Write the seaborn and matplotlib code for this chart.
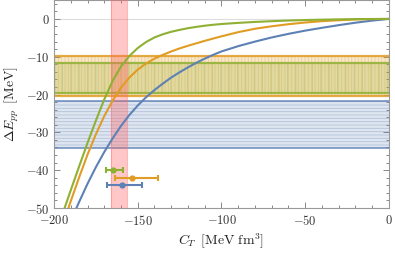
import numpy as np
import pandas as pd
import matplotlib
matplotlib.use("Agg")
import matplotlib.pyplot as plt
from matplotlib.ticker import MultipleLocator, FuncFormatter
import seaborn as sns

# curves: C_T [MeV fm^3] vs Delta E_pp [MeV]
c_blue = [0, -10, -20, -30, -40, -50, -60, -70, -80, -90, -100, -105, -110,
          -115, -120, -125, -130, -135, -140, -145, -150, -155, -160, -165,
          -170, -175, -180, -185, -187]
e_blue = [0, -0.45, -1.0, -1.65, -2.35, -3.1, -3.95, -4.9, -6.0, -7.2, -8.6,
          -9.5, -10.5, -11.6, -12.8, -14.1, -15.5, -17.1, -18.8, -20.7, -22.9,
          -25.4, -28.3, -31.6, -35.2, -39.2, -43.6, -48.4, -50.4]

c_orange = [0, -10, -20, -30, -40, -50, -60, -70, -80, -90, -100, -105, -110,
            -115, -120, -125, -130, -135, -140, -145, -150, -155, -160, -165,
            -170, -175, -180, -185, -190, -192]
e_orange = [0, -0.05, -0.15, -0.35, -0.6, -0.95, -1.4, -1.95, -2.6, -3.5, -4.6,
            -5.2, -5.8, -6.45, -7.1, -7.8, -8.6, -9.5, -10.5, -11.8, -13.4,
            -15.5, -18.2, -21.6, -25.7, -30.5, -35.9, -41.9, -48.2, -50.8]

c_green = [0, -10, -20, -30, -40, -50, -60, -70, -80, -90, -100, -105, -110,
           -115, -120, -125, -130, -135, -140, -145, -150, -155, -160, -165,
           -170, -175, -180, -185, -190, -195]
e_green = [0, -0.02, -0.06, -0.12, -0.2, -0.3, -0.43, -0.6, -0.8, -1.05, -1.35,
           -1.55, -1.8, -2.1, -2.45, -2.9, -3.4, -4.05, -4.9, -6.1, -7.7, -9.8,
           -12.6, -16.4, -21.3, -26.9, -32.8, -39.0, -45.3, -51.7]

# horizontal bands (lower, upper) in MeV
band_orange = (-20.5, -9.7)
band_green = (-19.5, -11.6)
band_blue = (-34.1, -21.7)

# vertical band in C_T
band_red = (-165.8, -156.6)

# error bars: centre, lower end, upper end, height
eb_names = ["green", "orange", "blue"]
eb_center = [-164.6, -153.3, -159.3]
eb_low = [-169.1, -163.3, -168.6]
eb_high = [-158.7, -137.8, -147.3]
eb_y = [-40, -42, -44]

blue = "#5E81B5"
orange = "#E19C24"
green = "#8FB032"
colors = {"blue": blue, "orange": orange, "green": green}

sns.set_style("ticks")
plt.rcParams["mathtext.fontset"] = "cm"
plt.rcParams["hatch.linewidth"] = 0.6

fig = plt.figure(figsize=(3.95, 2.57), dpi=100)
ax = fig.add_axes([54 / 395, 1 - 208 / 257, 335 / 395, 208 / 257])

# bands
ax.axhspan(*band_orange, facecolor=(225/255, 156/255, 36/255, 0.25),
           edgecolor=(225/255, 156/255, 36/255, 0.3), lw=0, hatch="|||||", zorder=1)
ax.axhspan(*band_green, facecolor=(160/255, 180/255, 50/255, 0.26),
           edgecolor=(110/255, 140/255, 40/255, 0.2), lw=0, hatch="||", zorder=1)
ax.axhspan(*band_blue, facecolor=(94/255, 129/255, 181/255, 0.2),
           edgecolor=(94/255, 129/255, 181/255, 0.35), lw=0, hatch="-----", zorder=1)
for lo_hi, col, lw in [(band_orange, orange, 1.6), (band_green, green, 1.6),
                       (band_blue, blue, 1.2)]:
    for v in lo_hi:
        ax.axhline(v, color=col, lw=lw, alpha=0.85, zorder=2)

ax.axvspan(*band_red, facecolor=(1, 0.38, 0.38, 0.35), lw=0, zorder=3)
for v in band_red:
    ax.axvline(v, color=(1, 0.45, 0.45, 0.5), lw=0.8, zorder=3)

ax.axhline(0, color="#dddddd", lw=0.8, zorder=0)

# curves
df = pd.concat([
    pd.DataFrame({"C": c_blue, "E": e_blue, "curve": "blue"}),
    pd.DataFrame({"C": c_orange, "E": e_orange, "curve": "orange"}),
    pd.DataFrame({"C": c_green, "E": e_green, "curve": "green"}),
])
sns.lineplot(data=df, x="C", y="E", hue="curve", hue_order=["blue", "orange", "green"],
             palette=colors, estimator=None, sort=False, legend=False, lw=1.5,
             ax=ax, zorder=4)

# error bars
for name, c, lo, hi, y in zip(eb_names, eb_center, eb_low, eb_high, eb_y):
    ax.errorbar([c], [y], xerr=[[c - lo], [hi - c]], fmt="o", ms=3.5,
                color=colors[name], lw=1.5, capsize=2.5, capthick=1.5, zorder=5)

ax.set_xlim(-200, 0)
ax.set_ylim(-50, 5)
ax.xaxis.set_major_locator(MultipleLocator(50))
ax.xaxis.set_minor_locator(MultipleLocator(10))
ax.yaxis.set_major_locator(MultipleLocator(10))
ax.yaxis.set_minor_locator(MultipleLocator(2))
fmt = FuncFormatter(lambda v, p: r"$%d$" % round(v))
ax.xaxis.set_major_formatter(fmt)
ax.yaxis.set_major_formatter(fmt)
ax.tick_params(which="both", direction="in", top=True, right=True,
               color="#888888", labelsize=9, labelcolor="#333333", width=0.7)
ax.tick_params(which="major", length=4)
ax.tick_params(which="minor", length=2)
ax.tick_params(axis="x", pad=4)
ax.tick_params(axis="y", pad=3)
for s in ax.spines.values():
    s.set_color("#999999")
    s.set_linewidth(0.8)

ax.set_xlabel(r"$C_T\ \,[\mathrm{MeV\ fm}^3]$", fontsize=10, color="#222222", labelpad=3)
ax.set_ylabel(r"$\Delta E_{pp}\ \,[\mathrm{MeV}]$", fontsize=10, color="#222222", labelpad=4)

fig.savefig("out.png", dpi=100)
